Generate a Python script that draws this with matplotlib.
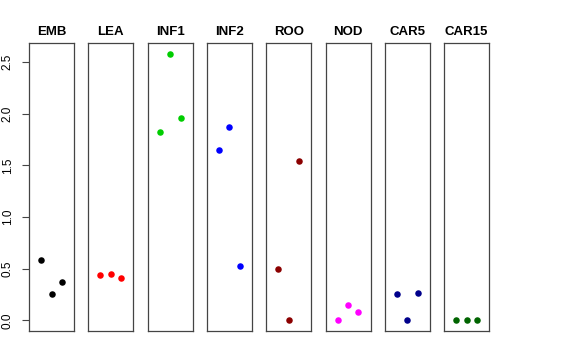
import numpy as np
import matplotlib.pyplot as plt

tissues = ["EMB", "LEA", "INF1", "INF2", "ROO", "NOD", "CAR5", "CAR15"]
colors = ["black", "#FF0000", "#00CD00", "#0000FF", "#8B0000", "#FF00FF", "#00008B", "#006400"]

emb = [0.587, 0.251, 0.367]
lea = [0.439, 0.452, 0.406]
inf1 = [1.825, 2.582, 1.963]
inf2 = [1.648, 1.873, 0.526]
roo = [0.497, 0.004, 1.547]
nod = [0.004, 0.145, 0.081]
car5 = [0.258, 0.0, 0.265]
car15 = [0.0, 0.0, 0.0]
values = [emb, lea, inf1, inf2, roo, nod, car5, car15]
reps = [1, 2, 3]

plt.rcParams['font.family'] = ['Liberation Sans', 'DejaVu Sans']

fig = plt.figure(figsize=(5.76, 3.6), dpi=100)
W, H = 576, 360
ymax = 2.582
pad = ymax * 0.04

for i, (name, vals, col) in enumerate(zip(tissues, values, colors)):
    left = 29 + i * 59.3
    ax = fig.add_axes([left / W, 29 / H, 45 / W, 288 / H])
    ax.scatter(reps, vals, s=22, color=col, zorder=3, linewidths=0)
    ax.set_xlim(-0.16, 4.16)
    ax.set_ylim(-pad, ymax + pad)
    ax.set_xticks([])
    ax.set_title(name, fontsize=9.5, fontweight="bold", pad=6)
    for s in ax.spines.values():
        s.set_color("#444444")
        s.set_linewidth(0.9)
    if i == 0:
        ax.set_yticks([0.0, 0.5, 1.0, 1.5, 2.0, 2.5])
        ax.tick_params(axis="y", length=5, width=0.8, pad=6, color="#444444",
                       labelsize=8.5, labelrotation=90)
        for lab in ax.get_yticklabels():
            lab.set_verticalalignment("center")
    else:
        ax.set_yticks([])

fig.savefig("out.png", dpi=100)
